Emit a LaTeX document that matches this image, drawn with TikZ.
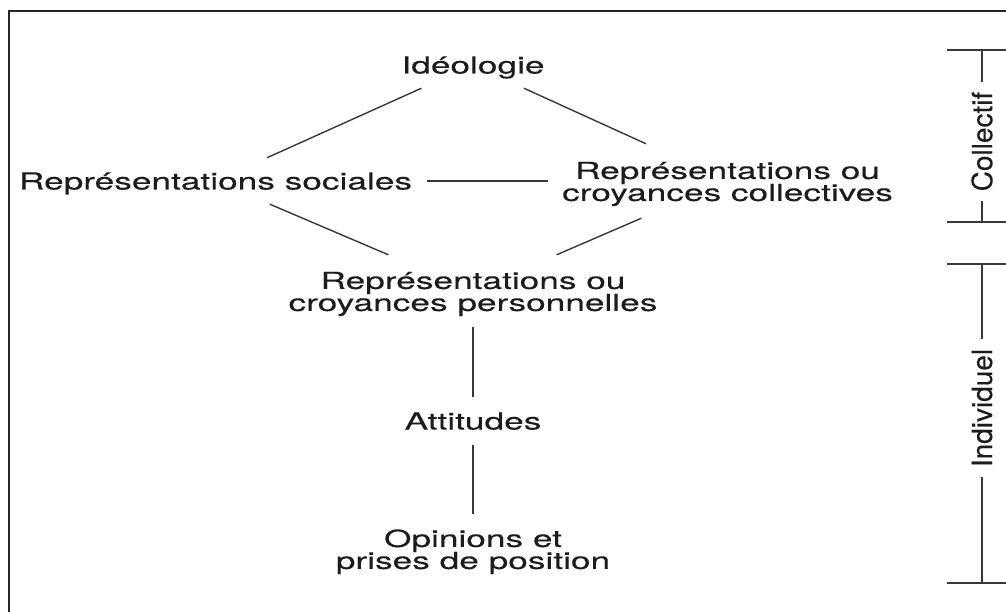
\documentclass[tikz,border=0pt]{standalone}
\usepackage{fontspec}
\setmainfont{TeX Gyre Heros}[FakeStretch=1.5, FakeBold=0.15]
\newfontfamily\rotfont{TeX Gyre Heros}[FakeBold=0.15]
\definecolor{txtcol}{HTML}{1C1C1C}
\definecolor{linecol}{HTML}{383838}
\definecolor{framecol}{HTML}{262626}
\lineskiplimit=-30pt
\begin{document}
\begin{tikzpicture}[x=1pt,y=-1pt,
  lbl/.style={inner sep=0pt, text=txtcol, font=\fontsize{23.5}{22}\selectfont},
  one/.style={lbl, text height=23pt, text depth=6pt, minimum height=46pt},
  two/.style={lbl, align=center},
  conn/.style={draw=linecol, line width=1.4pt},
  side/.style={rotate=90, font=\rotfont\fontsize{28}{28}\selectfont, inner xsep=10pt, inner ysep=0pt, text=txtcol}
]
\useasboundingbox (0,0) rectangle (1006,612);
% frame
\coordinate (fBL) at (9,620);
\coordinate (fTL) at (9,11);
\coordinate (fTR) at (1015,11);
\draw[draw=framecol, line width=2.6pt] (fBL) -- (fTL) -- (fTR);

% nodes
\node[one] (ideo) at (473,65) {Idéologie};
\node[one, minimum width=423pt] (soc) at (215.5,181) {Représentations sociales};
\node[two, minimum width=359pt, minimum height=74pt] (coll) at (727.5,181) {\rule{0pt}{23pt}Représentations ou\\croyances collectives};
\node[two, minimum height=72pt] (pers) at (473,291) {\rule{0pt}{23pt}Représentations ou\\croyances personnelles};
\node[one, minimum height=48pt] (att) at (473,421) {Attitudes};
\node[two, minimum height=70pt] (opin) at (473,549) {\rule{0pt}{23pt}Opinions et\\prises de position};

% connectors
\draw[conn] (ideo) -- (soc);
\draw[conn] (ideo) -- (coll);
\draw[conn] (soc) -- (coll);
\draw[conn] (soc) -- (pers);
\draw[conn] (coll) -- (pers);
\draw[conn] (pers) -- (att);
\draw[conn] (att) -- (opin);

% brackets
\coordinate (cT) at (982,50);
\coordinate (cB) at (982,222);
\coordinate (cTL) at (947,50);
\coordinate (cTR) at (1006,50);
\coordinate (cBL) at (947,222);
\coordinate (cBR) at (1006,222);
\node[side] (collab) at (982,141.5) {Collectif};
\draw[conn] (cTL) -- (cTR);
\draw[conn] (cBL) -- (cBR);
\draw[conn] (cT) -- (collab.east);
\draw[conn] (collab.west) -- (cB);

\coordinate (iT) at (982,264);
\coordinate (iB) at (982,583);
\coordinate (iTL) at (947,264);
\coordinate (iTR) at (1006,264);
\coordinate (iBL) at (947,583);
\coordinate (iBR) at (1006,583);
\node[side] (indlab) at (982,408) {Individuel};
\draw[conn] (iTL) -- (iTR);
\draw[conn] (iBL) -- (iBR);
\draw[conn] (iT) -- (indlab.east);
\draw[conn] (indlab.west) -- (iB);
\end{tikzpicture}
\end{document}
